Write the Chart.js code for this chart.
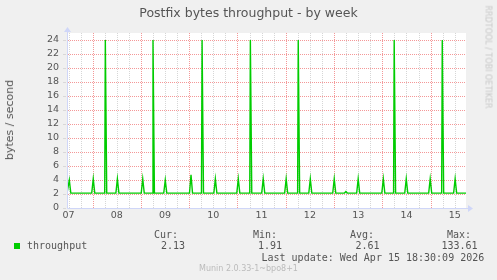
<!DOCTYPE html>
<html>
<head>
<meta charset="utf-8">
<script src="https://cdn.jsdelivr.net/npm/chart.js@4/dist/chart.umd.min.js"></script>
<style>
  html, body { margin: 0; padding: 0; background: #f0f0f0; }
  #wrap { position: relative; width: 497px; height: 280px; overflow: hidden; font-family: "DejaVu Sans", sans-serif; }
  canvas { position: absolute; left: 0; top: 0; }
  .t { position: absolute; white-space: nowrap; }
  .mono { font-family: "DejaVu Sans Mono", monospace; font-size: 10px; line-height: 12px; color: #555; }
</style>
</head>
<body>
<div id="wrap">
  <canvas id="chart" width="497" height="280"></canvas>
  <div class="t" style="left:0;width:497px;top:5px;text-align:center;font-size:12.5px;line-height:15px;color:#555;">Postfix bytes throughput - by week</div>
  <div class="t" style="left:10px;top:120px;font-size:11px;line-height:12px;color:#555;transform:translate(-50%,-50%) rotate(-90deg);">bytes / second</div>
  <div class="t" style="left:487.5px;top:57px;font-size:8px;line-height:9px;color:#c8c8c8;transform:translate(-50%,-50%) rotate(90deg);">RRDTOOL / TOBI OETIKER</div>

  <div class="t mono" style="left:154px;top:228.5px;">Cur:</div>
  <div class="t mono" style="left:253px;top:228.5px;">Min:</div>
  <div class="t mono" style="left:350px;top:228.5px;">Avg:</div>
  <div class="t mono" style="left:447px;top:228.5px;">Max:</div>

  <div class="t" style="left:14px;top:242.5px;width:6px;height:6px;background:#00cc00;"></div>
  <div class="t mono" style="left:27px;top:240px;">throughput</div>
  <div class="t mono" style="left:161px;top:240px;">2.13</div>
  <div class="t mono" style="left:258px;top:240px;">1.91</div>
  <div class="t mono" style="left:355.5px;top:240px;">2.61</div>
  <div class="t mono" style="left:441.5px;top:240px;">133.61</div>

  <div class="t mono" style="left:261.5px;top:252px;">Last update: Wed Apr 15 18:30:09 2026</div>
  <div class="t" style="left:199px;top:264px;font-size:8px;line-height:10px;color:#bbb;">Munin 2.0.33-1~bpo8+1</div>
</div>
<script>
// hours since Tue Apr 07 00:00 and the measured bytes/second at that time
const hours = [
  -0.75, -0.35, 0.4, 1.15,
  11.55, 12.3, 13.05,
  18.0, 18.3, 19.0,
  23.55, 24.3, 25.05,
  36.15, 36.9, 37.65,
  41.7, 42.0, 42.7,
  47.35, 48.1, 48.85,
  60.15, 60.9, 61.65,
  66.1, 66.4, 67.1,
  72.25, 73.0, 73.75,
  83.65, 84.4, 85.15,
  90.1, 90.4, 91.1,
  96.05, 96.8, 97.55,
  107.45, 108.2, 108.95,
  113.9, 114.2, 114.9,
  119.45, 120.2, 120.95,
  131.35, 132.1, 132.85,
  137.2, 137.9, 138.6,
  143.25, 144.0, 144.75,
  155.75, 156.5, 157.25,
  161.6, 161.9, 162.6,
  167.15, 167.9, 168.65,
  179.05, 179.8, 180.55,
  185.5, 185.8, 186.5,
  191.45, 192.2, 192.95,
  197.6
];
const throughput = [
  2.13, 2.13, 4.0, 2.13,
  2.13, 4.15, 2.13,
  2.13, 24, 2.13,
  2.13, 4.15, 2.13,
  2.13, 4.15, 2.13,
  2.13, 24, 2.13,
  2.13, 4.0, 2.13,
  2.13, 4.75, 2.13,
  2.13, 24, 2.13,
  2.13, 4.15, 2.13,
  2.13, 4.15, 2.13,
  2.13, 24, 2.13,
  2.13, 4.15, 2.13,
  2.13, 4.15, 2.13,
  2.13, 24, 2.13,
  2.13, 4.15, 2.13,
  2.13, 4.15, 2.13,
  2.13, 2.35, 2.13,
  2.13, 4.15, 2.13,
  2.13, 4.15, 2.13,
  2.13, 24, 2.13,
  2.13, 4.15, 2.13,
  2.13, 4.15, 2.13,
  2.13, 24, 2.13,
  2.13, 4.15, 2.13,
  2.13
];
const dayLabels = ["07", "08", "09", "10", "11", "12", "13", "14", "15"];
const yMax = 25;

const RED = "rgb(244,152,152)";
const GRAY = "rgb(214,214,214)";
const AXIS = "#cfd6f8";

Chart.defaults.font.family = "DejaVu Sans";
Chart.defaults.color = "#555";

// white canvas, dotted rrdtool grid, axis arrows
const muninFrame = {
  id: "muninFrame",
  beforeDraw(chart) {
    const { ctx, chartArea: a } = chart;
    ctx.save();
    ctx.fillStyle = "#fff";
    ctx.fillRect(a.left, a.top, a.right - a.left, a.bottom - a.top);
    ctx.restore();
  },
  beforeDatasetsDraw(chart) {
    const { ctx, chartArea: a, scales } = chart;
    const top = Math.round(a.top), bot = Math.round(a.bottom);
    const left = Math.round(a.left), right = Math.round(a.right);
    ctx.save();
    scales.x.ticks.forEach(t => {
      const px = Math.round(scales.x.getPixelForValue(t.value));
      ctx.fillStyle = t.value % 24 === 12 ? RED : GRAY;
      for (let y = top; y < bot; y += 2) ctx.fillRect(px, y, 1, 1);
    });
    scales.y.ticks.forEach(t => {
      const py = Math.round(scales.y.getPixelForValue(t.value));
      ctx.fillStyle = t.value % 2 === 0 ? RED : GRAY;
      for (let x = left + 1; x < right; x += 2) ctx.fillRect(x, py, 1, 1);
      if (t.value % 2 === 0) {
        ctx.fillStyle = "#d8d8d8";
        ctx.fillRect(left - 4, py, 3, 1);
      }
    });
    ctx.restore();
  },
  afterDraw(chart) {
    const { ctx, chartArea: a } = chart;
    const x0 = a.left + 0.5, y0 = a.bottom + 0.5;
    ctx.save();
    ctx.strokeStyle = AXIS;
    ctx.fillStyle = AXIS;
    ctx.lineWidth = 1;
    ctx.beginPath();
    ctx.moveTo(x0, y0);
    ctx.lineTo(x0, a.top - 3);
    ctx.moveTo(x0, y0);
    ctx.lineTo(a.right + 3, y0);
    ctx.stroke();
    ctx.beginPath();
    ctx.moveTo(x0 - 3.5, a.top - 1);
    ctx.lineTo(x0 + 3.5, a.top - 1);
    ctx.lineTo(x0, a.top - 6);
    ctx.closePath();
    ctx.fill();
    ctx.beginPath();
    ctx.moveTo(a.right + 2, y0 - 3.5);
    ctx.lineTo(a.right + 2, y0 + 3.5);
    ctx.lineTo(a.right + 7, y0);
    ctx.closePath();
    ctx.fill();
    ctx.restore();
  }
};

new Chart(document.getElementById("chart").getContext("2d"), {
  type: "line",
  data: {
    labels: hours,
    datasets: [{
      label: "throughput",
      data: hours.map((h, i) => ({ x: h, y: throughput[i] })),
      borderColor: "#00cc00",
      borderWidth: 1.4,
      pointRadius: 0,
      tension: 0,
      fill: false
    }]
  },
  options: {
    responsive: false,
    animation: false,
    devicePixelRatio: 1,
    layout: { padding: { left: 0, top: 33, right: 31, bottom: 0 } },
    plugins: { legend: { display: false }, tooltip: { enabled: false } },
    scales: {
      x: {
        type: "linear",
        min: hours[0],
        max: hours[hours.length - 1],
        afterBuildTicks: s => {
          const t = [];
          for (let h = 0; h <= (dayLabels.length - 1) * 24; h += 6) t.push({ value: h });
          s.ticks = t;
        },
        afterFit: s => { s.height = 72; },
        border: { display: false },
        grid: { display: false, drawTicks: false },
        ticks: {
          autoSkip: false,
          maxRotation: 0,
          padding: 2,
          font: { size: 9.5 },
          callback: v => v % 24 === 0 ? dayLabels[v / 24] : ""
        }
      },
      y: {
        min: 0,
        max: yMax,
        afterFit: s => { s.width = 67; },
        border: { display: false },
        grid: { display: false, drawTicks: true, tickLength: 4 },
        ticks: {
          stepSize: 1,
          padding: 4,
          font: { size: 9.5 },
          callback: v => v % 2 === 0 ? v : ""
        }
      }
    }
  },
  plugins: [muninFrame]
});
</script>
</body>
</html>
